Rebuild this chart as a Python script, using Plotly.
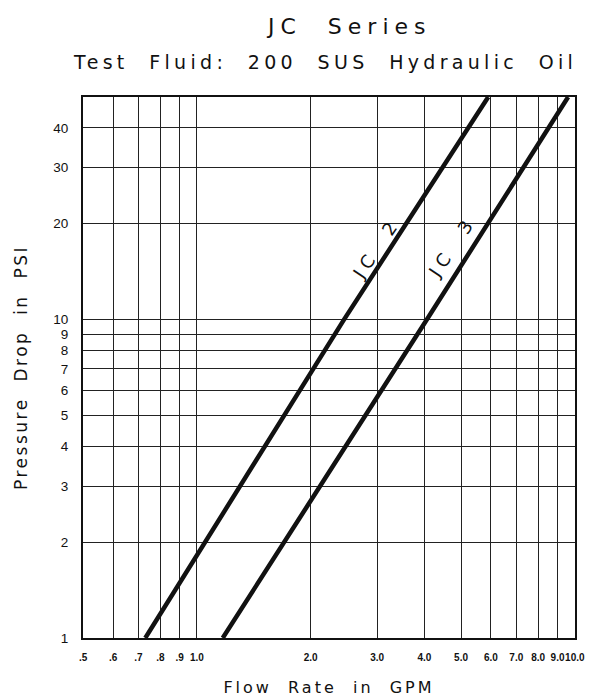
import math
import plotly.graph_objects as go

# ---- data ----
jc2_flow = [0.73, 2.45, 5.9]
jc2_dp = [1, 10, 50]
jc3_flow = [1.17, 4.06, 9.6]
jc3_dp = [1, 10, 50]

x_tickvals = [0.5, 0.6, 0.7, 0.8, 0.9, 1.0, 2.0, 3.0, 4.0, 5.0, 6.0, 7.0, 8.0, 9.0, 10.0]
x_ticktext = [".5", ".6", ".7", ".8", ".9", "1.0", "2.0", "3.0", "4.0", "5.0", "6.0", "7.0", "8.0", "9.0", "10.0"]
y_tickvals = [1, 2, 3, 4, 5, 6, 7, 8, 9, 10, 20, 30, 40]
y_ticktext = ["1", "2", "3", "4", "5", "6", "7", "8", "9", "10", "20", "30", "40"]

labels = ["JC  2", "JC  3"]
label_x = [2.98, 4.73]
label_y = [16.7, 17.0]

def spaced(t, px):
    return '<span style="letter-spacing:%spx">%s</span>' % (px, t)

fig = go.Figure()
for xs, ys in ((jc2_flow, jc2_dp), (jc3_flow, jc3_dp)):
    fig.add_trace(go.Scatter(x=xs, y=ys, mode="lines",
                             line=dict(color="#111111", width=4.5),
                             showlegend=False, hoverinfo="skip"))

for t, lx, ly in zip(labels, label_x, label_y):
    fig.add_annotation(x=math.log10(lx), y=math.log10(ly), xref="x", yref="y",
                       text=spaced(t, 5.5), showarrow=False, textangle=-56,
                       font=dict(family="DejaVu Sans", size=18, color="#111111"))

fig.add_annotation(x=0.541, y=1.131, xref="paper", yref="paper",
                   xanchor="center", yanchor="middle",
                   text=spaced("JC  Series", 6), showarrow=False,
                   font=dict(family="DejaVu Sans", size=22, color="#111111"))
fig.add_annotation(x=0.492, y=1.0647, xref="paper", yref="paper",
                   xanchor="center", yanchor="middle",
                   text=spaced("Test  Fluid:  200  SUS  Hydraulic  Oil", 4.3), showarrow=False,
                   font=dict(family="DejaVu Sans", size=19, color="#111111"))

fig.update_xaxes(type="log", range=[math.log10(0.5) - 0.0005, 1.0005],
                 tickvals=x_tickvals, ticktext=x_ticktext, tickangle=0,
                 tickfont=dict(family="Liberation Sans", size=10, color="#111111", weight="bold"),
                 ticklabeloverflow="allow", automargin=False,
                 showgrid=True, gridcolor="#222222", gridwidth=1,
                 showline=True, linecolor="#111111", linewidth=2, mirror=True,
                 ticks="", ticklabelstandoff=9,
                 title=dict(text=spaced("Flow  Rate  in  GPM", 3), standoff=20,
                            font=dict(family="DejaVu Sans", size=16, color="#111111")),
                 zeroline=False)
fig.update_yaxes(type="log", range=[0, math.log10(50)],
                 tickvals=y_tickvals, ticktext=y_ticktext, tickangle=0,
                 tickfont=dict(family="Liberation Sans", size=13.5, color="#111111"),
                 automargin=False,
                 showgrid=True, gridcolor="#222222", gridwidth=1,
                 showline=True, linecolor="#111111", linewidth=2, mirror=True,
                 ticks="", ticklabelstandoff=10,
                 title=dict(text=spaced("Pressure  Drop  in  PSI", 2.5), standoff=21,
                            font=dict(family="DejaVu Sans", size=17, color="#111111")),
                 zeroline=False)

fig.update_layout(width=589, height=700,
                  margin=dict(l=83, r=14, t=97, b=62, autoexpand=False),
                  paper_bgcolor="white", plot_bgcolor="white",
                  showlegend=False)

fig.write_html("out.html", config={"displayModeBar": False},
               post_script="document.body.style.margin='0px';document.body.style.overflow='hidden';")
